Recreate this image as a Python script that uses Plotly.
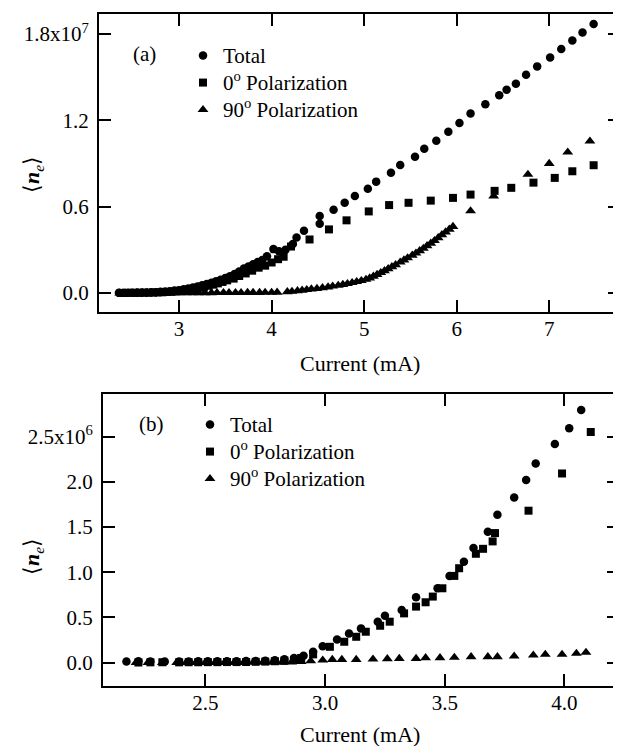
import plotly.graph_objects as go

# ---------------- Panel (a) data (y in units of 1e7) ----------------
a_scale = 1e7
a_total_x = [2.35, 2.40, 2.45, 2.50, 2.55, 2.60, 2.65, 2.70, 2.75, 2.80, 2.85, 2.90, 2.95,
             3.00, 3.05, 3.10, 3.15, 3.20, 3.25, 3.30, 3.35, 3.40, 3.45, 3.50, 3.55, 3.60,
             3.65, 3.70, 3.75, 3.80, 3.85, 3.90, 3.95, 4.02, 4.08, 4.15, 4.23, 4.27, 4.35,
             4.52, 4.52, 4.67, 4.79, 4.90, 5.04, 5.13, 5.29, 5.39, 5.55, 5.65, 5.78, 5.91,
             6.03, 6.15, 6.31, 6.46, 6.54, 6.64, 6.75, 6.87, 7.01, 7.13, 7.25, 7.36, 7.48]
a_total_y = [0.002, 0.002, 0.002, 0.002, 0.003, 0.003, 0.004, 0.005, 0.006, 0.008, 0.010, 0.013, 0.017,
             0.020, 0.026, 0.032, 0.039, 0.046, 0.054, 0.062, 0.071, 0.081, 0.092, 0.104, 0.117, 0.132,
             0.150, 0.170, 0.185, 0.200, 0.215, 0.230, 0.255, 0.305, 0.290, 0.300, 0.340, 0.386, 0.432,
             0.535, 0.482, 0.578, 0.628, 0.674, 0.725, 0.774, 0.836, 0.889, 0.947, 1.002, 1.058, 1.120,
             1.182, 1.247, 1.312, 1.374, 1.413, 1.455, 1.517, 1.575, 1.637, 1.695, 1.755, 1.810, 1.870]

a_pol0_x = [2.37, 2.42, 2.47, 2.52, 2.57, 2.62, 2.67, 2.72, 2.77, 2.82, 2.87, 2.92, 2.97,
            3.02, 3.07, 3.12, 3.17, 3.22, 3.27, 3.32, 3.37, 3.42, 3.47, 3.52, 3.59, 3.65,
            3.72, 3.79, 3.86, 3.93, 4.00, 4.07, 4.13, 4.21, 4.41, 4.62, 4.81, 5.05, 5.27,
            5.48, 5.72, 5.96, 6.15, 6.41, 6.59, 6.83, 7.06, 7.25, 7.48]
a_pol0_y = [0.000, 0.000, 0.001, 0.001, 0.001, 0.002, 0.002, 0.003, 0.004, 0.005, 0.007, 0.009, 0.012,
            0.016, 0.020, 0.025, 0.030, 0.036, 0.043, 0.050, 0.058, 0.067, 0.077, 0.088, 0.100, 0.118,
            0.136, 0.155, 0.176, 0.190, 0.212, 0.235, 0.252, 0.323, 0.372, 0.442, 0.505, 0.567, 0.611,
            0.627, 0.642, 0.661, 0.684, 0.710, 0.731, 0.767, 0.800, 0.846, 0.888]

a_pol90_x = [2.36, 2.42, 2.48, 2.54, 2.60, 2.66, 2.72, 2.78, 2.84, 2.90, 2.96, 3.02, 3.08,
             3.15, 3.21, 3.28, 3.35, 3.41, 3.48, 3.54, 3.61, 3.67, 3.74, 3.80, 3.87, 3.93,
             4.00, 4.06, 4.17, 4.22, 4.28, 4.33, 4.38, 4.43, 4.49, 4.55, 4.61, 4.66, 4.72,
             4.77, 4.82, 4.87, 4.92, 4.97, 5.02, 5.06, 5.10, 5.14, 5.18, 5.22, 5.26, 5.30,
             5.34, 5.39, 5.43, 5.47, 5.52, 5.56, 5.60, 5.64, 5.68, 5.72, 5.76, 5.80, 5.84,
             5.88, 5.92, 5.96, 6.15, 6.40, 6.77, 7.00, 7.20, 7.44]
a_pol90_y = [0.000, 0.000, 0.000, 0.000, 0.000, 0.000, 0.000, 0.000, 0.000, 0.000, 0.001, 0.001, 0.001,
             0.001, 0.001, 0.001, 0.001, 0.002, 0.002, 0.002, 0.002, 0.002, 0.003, 0.003, 0.003, 0.004,
             0.004, 0.005, 0.008, 0.011, 0.015, 0.019, 0.023, 0.027, 0.031, 0.036, 0.041, 0.047, 0.053,
             0.059, 0.065, 0.072, 0.079, 0.086, 0.094, 0.104, 0.116, 0.128, 0.141, 0.154, 0.168, 0.182,
             0.196, 0.214, 0.229, 0.244, 0.262, 0.277, 0.293, 0.310, 0.328, 0.345, 0.364, 0.384, 0.404,
             0.424, 0.443, 0.462, 0.570, 0.674, 0.824, 0.900, 0.979, 1.055]

a_yticks = [0.0, 0.6, 1.2, 1.8]
a_yticktext = ["0.0", "0.6", "1.2", "1.8x10<sup>7</sup>"]
a_xticks = [3, 4, 5, 6, 7]

# ---------------- Panel (b) data (y in units of 1e6) ----------------
b_scale = 1e6
b_total_x = [2.17, 2.22, 2.27, 2.33, 2.39, 2.43, 2.47, 2.51, 2.55, 2.59, 2.63, 2.67, 2.71,
             2.75, 2.79, 2.83, 2.87, 2.91, 2.95, 2.99, 3.05, 3.10, 3.15, 3.22, 3.25, 3.32,
             3.38, 3.47, 3.52, 3.58, 3.62, 3.68, 3.72, 3.79, 3.84, 3.88, 3.96, 4.02, 4.07]
b_total_y = [0.010, 0.015, 0.012, 0.010, 0.012, 0.012, 0.013, 0.013, 0.014, 0.014, 0.015, 0.016, 0.018,
             0.020, 0.025, 0.035, 0.050, 0.075, 0.120, 0.181, 0.256, 0.322, 0.378, 0.452, 0.519, 0.581,
             0.722, 0.822, 0.959, 1.115, 1.267, 1.448, 1.637, 1.826, 2.022, 2.204, 2.419, 2.593, 2.796]

b_pol0_x = [2.22, 2.27, 2.32, 2.39, 2.43, 2.47, 2.51, 2.55, 2.59, 2.63, 2.67, 2.71, 2.75,
            2.79, 2.83, 2.87, 2.90, 2.95, 3.02, 3.08, 3.13, 3.17, 3.23, 3.27, 3.33, 3.38,
            3.42, 3.45, 3.49, 3.54, 3.56, 3.63, 3.66, 3.70, 3.71, 3.85, 3.99, 4.11]
b_pol0_y = [0.000, 0.002, 0.003, 0.002, 0.003, 0.003, 0.004, 0.004, 0.005, 0.005, 0.006, 0.008, 0.010,
            0.014, 0.020, 0.030, 0.050, 0.090, 0.174, 0.230, 0.285, 0.341, 0.407, 0.452, 0.544, 0.619,
            0.667, 0.730, 0.822, 0.959, 1.044, 1.204, 1.259, 1.341, 1.433, 1.681, 2.093, 2.552]

b_pol90_x = [2.21, 2.26, 2.32, 2.38, 2.42, 2.46, 2.50, 2.54, 2.58, 2.62, 2.66, 2.70, 2.74,
             2.78, 2.82, 2.86, 2.90, 2.94, 2.99, 3.03, 3.07, 3.13, 3.20, 3.26, 3.31, 3.38,
             3.42, 3.48, 3.54, 3.61, 3.68, 3.72, 3.79, 3.87, 3.92, 3.99, 4.05, 4.09]
b_pol90_y = [0.000, 0.000, 0.000, 0.000, 0.000, 0.000, 0.000, 0.000, 0.000, 0.000, 0.000, 0.001, 0.001,
             0.002, 0.003, 0.005, 0.010, 0.018, 0.026, 0.033, 0.033, 0.033, 0.037, 0.041, 0.044, 0.044,
             0.052, 0.052, 0.056, 0.063, 0.063, 0.063, 0.070, 0.081, 0.089, 0.089, 0.100, 0.111]

b_yticks = [0.0, 0.5, 1.0, 1.5, 2.0, 2.5]
b_yticktext = ["0.0", "0.5", "1.0", "1.5", "2.0", "2.5x10<sup>6</sup>"]
b_xticks = [2.5, 3.0, 3.5, 4.0]
b_xticktext = ["2.5", "3.0", "3.5", "4.0"]

series_names = ["Total", "0<sup>o</sup> Polarization", "90<sup>o</sup> Polarization"]
symbols = ["circle", "square", "triangle-up"]
sizes = [8.5, 8, 9.5]

FONT = "Liberation Serif"
# page has an 8px body margin, so draw the figure 8px smaller and map reference pixels
OFF = 8
W, H = 621 - OFF, 746 - OFF

fig = go.Figure()

panel_a = [(a_total_x, a_total_y), (a_pol0_x, a_pol0_y), (a_pol90_x, a_pol90_y)]
panel_b = [(b_total_x, b_total_y), (b_pol0_x, b_pol0_y), (b_pol90_x, b_pol90_y)]

def legend_name(s):
    return '<span style="font-size:21px">' + s + '</span>'

for i, (xs, ys) in enumerate(panel_a):
    fig.add_trace(go.Scatter(x=xs, y=[v * a_scale for v in ys], mode="markers",
                             name=legend_name(series_names[i]), xaxis="x", yaxis="y", legend="legend",
                             marker=dict(symbol=symbols[i], size=sizes[i], color="black",
                                         line=dict(width=0))))
for i, (xs, ys) in enumerate(panel_b):
    fig.add_trace(go.Scatter(x=xs, y=[v * b_scale for v in ys], mode="markers",
                             name=legend_name(series_names[i]), xaxis="x2", yaxis="y2", legend="legend2",
                             marker=dict(symbol=symbols[i], size=sizes[i], color="black",
                                         line=dict(width=0))))

def px_x(p):
    return (p - OFF) / W

def px_y(p):
    return 1 - (p - OFF) / H

axis_common = dict(showgrid=False, zeroline=False, showline=True, linecolor="black",
                   linewidth=2, mirror="ticks", ticks="inside", ticklen=12, tickwidth=1.5,
                   tickcolor="black", tickfont=dict(family=FONT, size=21, color="black"))

fig.update_layout(
    width=W, height=H,
    margin=dict(l=0, r=0, t=0, b=0),
    paper_bgcolor="white", plot_bgcolor="white",
    font=dict(family=FONT, color="black", size=21),
    xaxis=dict(domain=[px_x(99), px_x(620)], range=[2.135, 7.765], anchor="y",
               tickvals=a_xticks, ticklabelstandoff=-3, **axis_common),
    yaxis=dict(domain=[px_y(312), px_y(14)], range=[-0.132 * a_scale, 1.939 * a_scale], anchor="x",
               tickvals=[v * a_scale for v in a_yticks], ticktext=a_yticktext,
               ticklabelstandoff=4, **axis_common),
    xaxis2=dict(domain=[px_x(103), px_x(619)], range=[2.072, 4.228], anchor="y2",
                tickvals=b_xticks, ticktext=b_xticktext,
                ticklabelstandoff=-3, **axis_common),
    yaxis2=dict(domain=[px_y(686), px_y(394)], range=[-0.26 * b_scale, 2.973 * b_scale], anchor="x2",
                tickvals=[v * b_scale for v in b_yticks], ticktext=b_yticktext,
                ticklabelstandoff=4, **axis_common),
    legend=dict(x=px_x(183), y=px_y(37), xanchor="left", yanchor="top",
                bgcolor="rgba(0,0,0,0)", font=dict(family=FONT, size=18.5, color="black"),
                tracegroupgap=0),
    legend2=dict(x=px_x(190), y=px_y(406), xanchor="left", yanchor="top",
                 bgcolor="rgba(0,0,0,0)", font=dict(family=FONT, size=18.5, color="black"),
                 tracegroupgap=0),
    showlegend=True,
)

annos = [
    dict(text="(a)", x=px_x(144), y=px_y(54)),
    dict(text="(b)", x=px_x(151.5), y=px_y(424)),
    dict(text="Current (mA)", x=px_x(360), y=px_y(363), size=22),
    dict(text="Current (mA)", x=px_x(360), y=px_y(734), size=22),
    dict(text="⟨<b><i>n</i></b><sub><i>e</i></sub>⟩", x=px_x(33), y=px_y(175), size=22, angle=-90),
    dict(text="⟨<b><i>n</i></b><sub><i>e</i></sub>⟩", x=px_x(33), y=px_y(557), size=22, angle=-90),
]
for a in annos:
    fig.add_annotation(text=a["text"], x=a["x"], y=a["y"], xref="paper", yref="paper",
                       xanchor="center", yanchor="middle", showarrow=False,
                       textangle=a.get("angle", 0),
                       font=dict(family=FONT, size=a.get("size", 21), color="black"))

fig.write_html("out.html")
